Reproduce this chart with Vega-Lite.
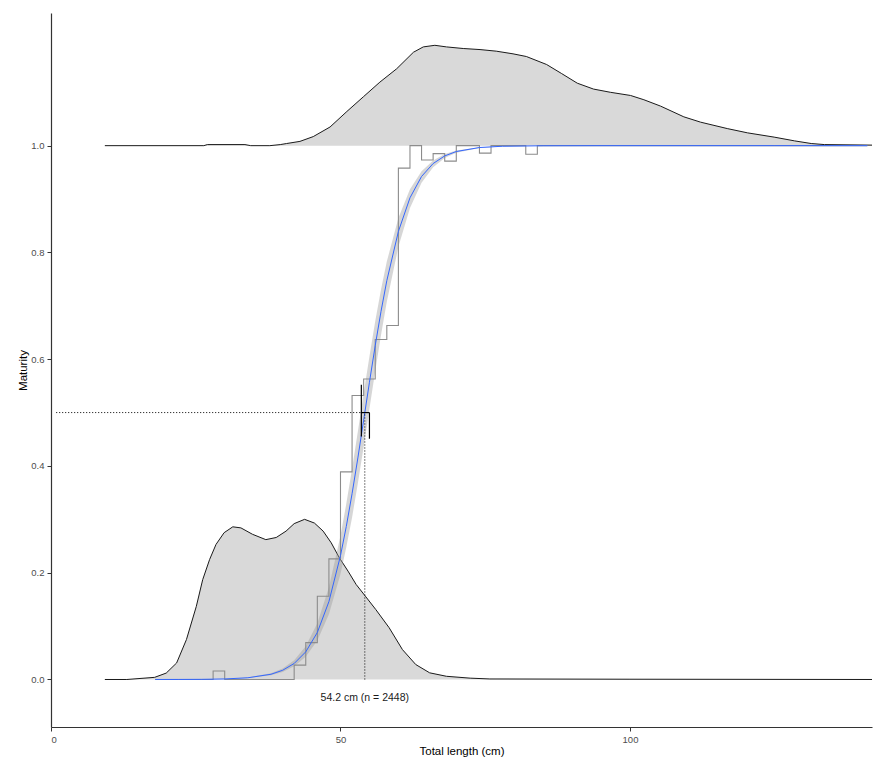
{
  "$schema": "https://vega.github.io/schema/vega-lite/v6.json",
  "width": 821,
  "height": 714,
  "autosize": {"type": "none"},
  "padding": {"left": 51, "top": 13, "right": 7, "bottom": 42},
  "background": "white",
  "config": {
    "view": {"stroke": null},
    "axis": {
      "grid": false,
      "labelFont": "Liberation Sans",
      "titleFont": "Liberation Sans",
      "labelColor": "#4d4d4d",
      "labelFontSize": 9.5,
      "titleFontSize": 11.5,
      "titleFontWeight": "normal",
      "titleColor": "#000000",
      "domainColor": "#333333",
      "tickColor": "#333333",
      "tickSize": 4,
      "domainWidth": 1.2
    }
  },
  "datasets": {
    "densTop": [
      {"x": 9.3, "y": 1.0}, {"x": 26.4, "y": 1.0}, {"x": 27.0, "y": 1.002}, {"x": 33.5, "y": 1.002},
      {"x": 34.5, "y": 1.0}, {"x": 37.8, "y": 1.0}, {"x": 39.6, "y": 1.002}, {"x": 40.7, "y": 1.004},
      {"x": 43.0, "y": 1.008}, {"x": 45.3, "y": 1.017}, {"x": 48.2, "y": 1.035}, {"x": 51.1, "y": 1.064},
      {"x": 54.0, "y": 1.092}, {"x": 56.8, "y": 1.119}, {"x": 59.7, "y": 1.144}, {"x": 62.6, "y": 1.175},
      {"x": 64.3, "y": 1.185}, {"x": 66.3, "y": 1.188}, {"x": 68.3, "y": 1.185}, {"x": 71.2, "y": 1.182},
      {"x": 74.1, "y": 1.18}, {"x": 76.9, "y": 1.177}, {"x": 79.8, "y": 1.172}, {"x": 82.1, "y": 1.167},
      {"x": 85.6, "y": 1.152}, {"x": 88.2, "y": 1.135}, {"x": 90.9, "y": 1.117}, {"x": 93.7, "y": 1.106},
      {"x": 96.6, "y": 1.1}, {"x": 100.1, "y": 1.094}, {"x": 102.4, "y": 1.086}, {"x": 105.3, "y": 1.074},
      {"x": 109.3, "y": 1.054}, {"x": 112.2, "y": 1.044}, {"x": 116.8, "y": 1.032}, {"x": 120.3, "y": 1.024},
      {"x": 124.9, "y": 1.016}, {"x": 128.4, "y": 1.009}, {"x": 131.3, "y": 1.004}, {"x": 133.6, "y": 1.002},
      {"x": 141.8, "y": 1.001}
    ],
    "densBot": [
      {"x": 9.3, "y": 0}, {"x": 13.1, "y": 0}, {"x": 17.9, "y": 0.004}, {"x": 19.9, "y": 0.012},
      {"x": 21.7, "y": 0.031}, {"x": 23.4, "y": 0.075}, {"x": 25.1, "y": 0.137}, {"x": 26.2, "y": 0.187},
      {"x": 27.4, "y": 0.225}, {"x": 28.5, "y": 0.253}, {"x": 29.9, "y": 0.275}, {"x": 31.4, "y": 0.286},
      {"x": 32.8, "y": 0.284}, {"x": 34.8, "y": 0.272}, {"x": 37.1, "y": 0.262}, {"x": 38.9, "y": 0.266},
      {"x": 40.6, "y": 0.278}, {"x": 42.0, "y": 0.292}, {"x": 43.8, "y": 0.3}, {"x": 45.5, "y": 0.293},
      {"x": 47.0, "y": 0.278}, {"x": 48.4, "y": 0.256}, {"x": 49.8, "y": 0.228}, {"x": 51.3, "y": 0.203},
      {"x": 52.7, "y": 0.178}, {"x": 54.3, "y": 0.156}, {"x": 56.1, "y": 0.131}, {"x": 58.4, "y": 0.097},
      {"x": 60.7, "y": 0.056}, {"x": 63.0, "y": 0.028}, {"x": 65.4, "y": 0.0125}, {"x": 68.3, "y": 0.006},
      {"x": 72.4, "y": 0.0025}, {"x": 75.8, "y": 0.001}, {"x": 100, "y": 0.0005}, {"x": 141.8, "y": 0}
    ],
    "steps": [
      {"x": 18, "y": 0}, {"x": 28, "y": 0.016}, {"x": 30, "y": 0}, {"x": 42, "y": 0.027},
      {"x": 44, "y": 0.069}, {"x": 46, "y": 0.156}, {"x": 48, "y": 0.226}, {"x": 50, "y": 0.389},
      {"x": 52, "y": 0.532}, {"x": 54, "y": 0.563}, {"x": 56, "y": 0.637}, {"x": 58, "y": 0.663},
      {"x": 60, "y": 0.958}, {"x": 62, "y": 1.0}, {"x": 64, "y": 0.973}, {"x": 66, "y": 0.985},
      {"x": 68, "y": 0.971}, {"x": 70, "y": 1.0}, {"x": 74, "y": 0.986}, {"x": 76, "y": 1.0},
      {"x": 82, "y": 0.984}, {"x": 84, "y": 1.0}, {"x": 141, "y": 1.0}
    ],
    "fit": [
      {"x": 18, "y": 0.00003, "lo": 0.00003, "hi": 0.00004},
      {"x": 22, "y": 0.0001, "lo": 0.0001, "hi": 0.00013},
      {"x": 26, "y": 0.0003, "lo": 0.0003, "hi": 0.0004},
      {"x": 30, "y": 0.001, "lo": 0.0008, "hi": 0.0012},
      {"x": 34, "y": 0.0032, "lo": 0.0026, "hi": 0.0038},
      {"x": 38, "y": 0.0098, "lo": 0.008, "hi": 0.0119},
      {"x": 40, "y": 0.0172, "lo": 0.0141, "hi": 0.0208},
      {"x": 42, "y": 0.03, "lo": 0.0246, "hi": 0.0362},
      {"x": 44, "y": 0.0518, "lo": 0.0427, "hi": 0.0624},
      {"x": 46, "y": 0.0881, "lo": 0.0731, "hi": 0.1053},
      {"x": 48, "y": 0.1459, "lo": 0.1224, "hi": 0.1726},
      {"x": 50, "y": 0.232, "lo": 0.1978, "hi": 0.2694},
      {"x": 51, "y": 0.2866, "lo": 0.2479, "hi": 0.3291},
      {"x": 52, "y": 0.348, "lo": 0.3036, "hi": 0.3947},
      {"x": 53, "y": 0.415, "lo": 0.3678, "hi": 0.4644},
      {"x": 54, "y": 0.4858, "lo": 0.4362, "hi": 0.5356},
      {"x": 55, "y": 0.5568, "lo": 0.5071, "hi": 0.6052},
      {"x": 56, "y": 0.6255, "lo": 0.5777, "hi": 0.671},
      {"x": 57, "y": 0.6896, "lo": 0.6453, "hi": 0.7306},
      {"x": 58, "y": 0.747, "lo": 0.7076, "hi": 0.7829},
      {"x": 60, "y": 0.8393, "lo": 0.8106, "hi": 0.8644},
      {"x": 62, "y": 0.9023, "lo": 0.8833, "hi": 0.9185},
      {"x": 64, "y": 0.9423, "lo": 0.9304, "hi": 0.9522},
      {"x": 66, "y": 0.9665, "lo": 0.9594, "hi": 0.9724},
      {"x": 68, "y": 0.9808, "lo": 0.9767, "hi": 0.9842},
      {"x": 70, "y": 0.989, "lo": 0.9867, "hi": 0.991},
      {"x": 74, "y": 0.9965, "lo": 0.9957, "hi": 0.9971},
      {"x": 78, "y": 0.9989, "lo": 0.9986, "hi": 0.9991},
      {"x": 85, "y": 0.9998, "lo": 0.9998, "hi": 0.9999},
      {"x": 95, "y": 1, "lo": 1, "hi": 1},
      {"x": 110, "y": 1, "lo": 1, "hi": 1},
      {"x": 125, "y": 1, "lo": 1, "hi": 1},
      {"x": 141, "y": 1, "lo": 1, "hi": 1}
    ],
    "guides": [
      {"x": 0.9, "x2": 54.2, "y": 0.5, "y2": 0.5},
      {"x": 54.2, "x2": 54.2, "y": 0, "y2": 0.5}
    ],
    "ci": [
      {"x": 53.6, "x2": 53.6, "y": 0.455, "y2": 0.552},
      {"x": 55.0, "x2": 55.0, "y": 0.451, "y2": 0.5},
      {"x": 53.5, "x2": 55.0, "y": 0.5, "y2": 0.5}
    ],
    "label": [
      {"x": 54.2, "y": -0.034, "label": "54.2 cm (n = 2448)"}
    ]
  },
  "encoding": {
    "x": {
      "field": "x", "type": "quantitative", "title": "Total length (cm)",
      "scale": {"domain": [0, 141.8], "nice": false, "zero": false},
      "axis": {"values": [0, 50, 100], "labelPadding": 3, "titlePadding": 2}
    },
    "y": {
      "field": "y", "type": "quantitative", "title": "Maturity",
      "scale": {"domain": [-0.089, 1.2485], "nice": false, "zero": false},
      "axis": {"values": [0, 0.2, 0.4, 0.6, 0.8, 1.0], "format": ".1f", "labelPadding": 3, "titlePadding": 2}
    }
  },
  "layer": [
    {
      "data": {"name": "densTop"},
      "mark": {"type": "area", "fill": "#d9d9d9"},
      "encoding": {"y2": {"datum": 1}}
    },
    {
      "data": {"name": "densTop"},
      "mark": {"type": "line", "color": "#1a1a1a", "strokeWidth": 1},
      "encoding": {}
    },
    {
      "data": {"name": "densBot"},
      "mark": {"type": "area", "fill": "#d9d9d9"},
      "encoding": {"y2": {"datum": 0}}
    },
    {
      "data": {"name": "densBot"},
      "mark": {"type": "line", "color": "#1a1a1a", "strokeWidth": 1},
      "encoding": {}
    },
    {
      "data": {"name": "fit"},
      "mark": {"type": "area", "fill": "#999999", "opacity": 0.4},
      "encoding": {
        "y": {"field": "lo", "type": "quantitative", "title": "Maturity"},
        "y2": {"field": "hi"}
      }
    },
    {
      "data": {"name": "steps"},
      "mark": {"type": "line", "interpolate": "step-after", "color": "#8c8c8c", "strokeWidth": 1.1},
      "encoding": {}
    },
    {
      "data": {"name": "fit"},
      "mark": {"type": "line", "color": "#3366FF", "strokeWidth": 1},
      "encoding": {}
    },
    {
      "data": {"name": "guides"},
      "mark": {"type": "rule", "color": "#000000", "strokeWidth": 1, "strokeDash": [1, 2]},
      "encoding": {"x2": {"field": "x2"}, "y2": {"field": "y2"}}
    },
    {
      "data": {"name": "ci"},
      "mark": {"type": "rule", "color": "#000000", "strokeWidth": 1.2},
      "encoding": {"x2": {"field": "x2"}, "y2": {"field": "y2"}}
    },
    {
      "data": {"name": "label"},
      "mark": {"type": "text", "font": "Liberation Sans", "fontSize": 10.5, "color": "#1a1a1a", "align": "center", "baseline": "middle"},
      "encoding": {"text": {"field": "label"}}
    }
  ]
}
